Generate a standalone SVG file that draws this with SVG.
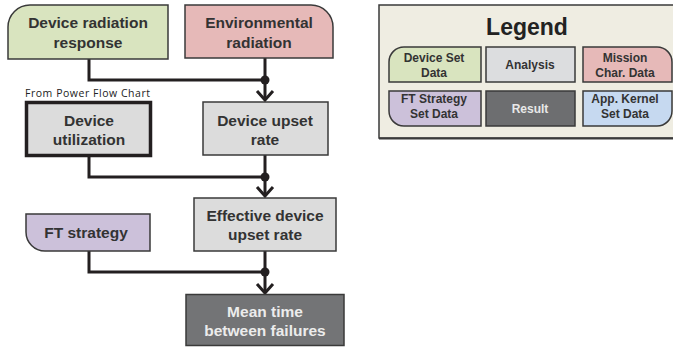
<svg xmlns="http://www.w3.org/2000/svg" width="673" height="347" viewBox="0 0 673 347">
<style>
.n{stroke:#3a3a3a;stroke-width:1.5}
.t{font-family:"Liberation Sans",Arial,sans-serif;font-weight:bold;font-size:15.5px;fill:#333;text-anchor:middle}
.lt{font-family:"Liberation Sans",Arial,sans-serif;font-weight:bold;font-size:12px;fill:#333;text-anchor:middle}
.c{fill:none;stroke:#231f20;stroke-width:3}
.d{fill:#231f20}
</style>
<rect width="673" height="347" fill="#ffffff"/>
<g id="connectors">
<path class="c" d="M89,59 V80 H265"/>
<path class="c" d="M265,58 V100"/>
<path class="c" d="M257,91 L265,100 L273,91"/>
<circle class="d" cx="265" cy="80" r="4.5"/>
<path class="c" d="M89,157 V177 H265"/>
<path class="c" d="M265,155 V196"/>
<path class="c" d="M257,187 L265,196 L273,187"/>
<circle class="d" cx="265" cy="177" r="4.5"/>
<path class="c" d="M89,251 V272 H265"/>
<path class="c" d="M265,251 V293"/>
<path class="c" d="M257,284 L265,293 L273,284"/>
<circle class="d" cx="265" cy="272" r="4.5"/>
</g>
<g id="device-radiation-response">
<path class="n" fill="#d9e4bf" d="M8,59 V27 A22,22 0 0 1 30,5 H168 V59 Z"/>
<text class="t" x="88" y="28">Device radiation</text>
<text class="t" x="88" y="48">response</text>
</g>
<g id="environmental-radiation">
<path class="n" fill="#e6b9b8" d="M185,5 H311 A22,22 0 0 1 333,27 V58 H185 Z"/>
<text class="t" x="259" y="28">Environmental</text>
<text class="t" x="259" y="48">radiation</text>
</g>
<g id="device-utilization">
<text x="25" y="97" font-family="'Open Sans',sans-serif" font-size="10.5" fill="#222" textLength="125">From Power Flow Chart</text>
<rect x="26.5" y="102.5" width="124" height="53" fill="#dcdcdc" stroke="#231f20" stroke-width="3.5"/>
<text class="t" x="89" y="126">Device</text>
<text class="t" x="89" y="145">utilization</text>
</g>
<g id="device-upset-rate">
<rect class="n" x="203" y="102" width="125" height="53" fill="#dcdcdc"/>
<text class="t" x="265" y="126">Device upset</text>
<text class="t" x="265" y="145">rate</text>
</g>
<g id="effective-device-upset-rate">
<rect class="n" x="194" y="198" width="142" height="53" fill="#dcdcdc"/>
<text class="t" x="265" y="221">Effective device</text>
<text class="t" x="265" y="240">upset rate</text>
</g>
<g id="ft-strategy">
<path class="n" fill="#ccc1da" d="M26,214 H150 V251 H45 A19,19 0 0 1 26,232 Z"/>
<text class="t" x="86" y="238">FT strategy</text>
</g>
<g id="mtbf">
<rect class="n" x="186" y="294.5" width="158" height="51" fill="#737476"/>
<text class="t" x="265" y="317" style="fill:#ececec">Mean time</text>
<text class="t" x="265" y="336" style="fill:#ececec">between failures</text>
</g>
<g id="legend">
<rect x="379" y="5" width="300" height="133" fill="#efede2" stroke="#3a3a3a" stroke-width="1.5"/>
<line x1="379" y1="138.5" x2="673" y2="138.5" stroke="#3a3a3a" stroke-width="2"/>
<text x="527" y="35" font-family="'Liberation Sans',Arial,sans-serif" font-weight="bold" font-size="23" fill="#222" text-anchor="middle">Legend</text>
<path class="n" fill="#d9e4bf" d="M389,82 V62 A15,15 0 0 1 404,47 H481 V82 Z"/>
<text class="lt" x="434" y="62">Device Set</text>
<text class="lt" x="434" y="77">Data</text>
<rect class="n" x="486" y="47" width="89" height="35" fill="#dcdddf"/>
<text class="lt" x="530" y="69">Analysis</text>
<path class="n" fill="#e6b9b8" d="M583,47 H657 A15,15 0 0 1 672,62 V82 H583 Z"/>
<text class="lt" x="625" y="62">Mission</text>
<text class="lt" x="625" y="77">Char. Data</text>
<path class="n" fill="#ccc1da" d="M389,91 H481 V126 H404 A15,15 0 0 1 389,111 Z"/>
<text class="lt" x="434" y="103">FT Strategy</text>
<text class="lt" x="434" y="118">Set Data</text>
<rect class="n" x="486" y="91" width="89" height="35" fill="#6d6e70"/>
<text class="lt" x="530" y="113" style="fill:#e8e8e8">Result</text>
<path class="n" fill="#c6d9f0" d="M583,91 H672 V111 A15,15 0 0 1 657,126 H583 Z"/>
<text class="lt" x="625" y="103">App. Kernel</text>
<text class="lt" x="625" y="118">Set Data</text>
</g>
</svg>
